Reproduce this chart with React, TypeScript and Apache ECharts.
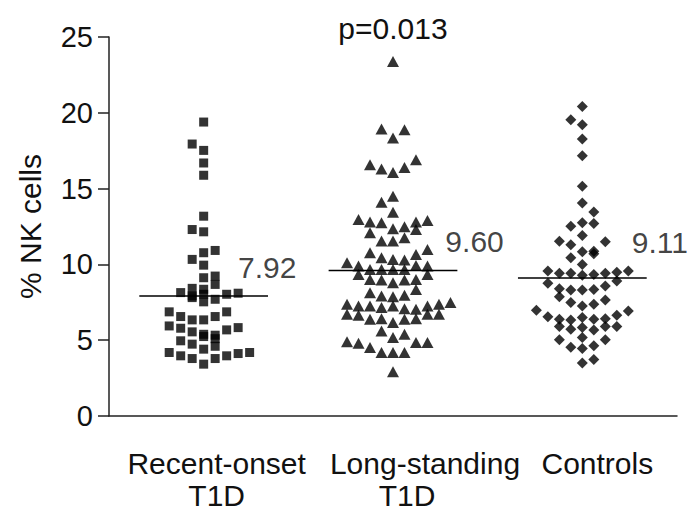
import React, { useEffect, useRef } from "react";
import * as echarts from "echarts";

const categories = ["Recent-onset\nT1D", "Long-standing\nT1D", "Controls"];
const medians = [7.92, 9.6, 9.11];
const medianLabels = ["7.92", "9.60", "9.11"];
const pValueText = "p=0.013";
const yAxisTitle = "% NK cells";

// [column slot in the beeswarm, % NK cells]
const recentOnset: [number, number][] = [
  [0, 19.39], [-1, 17.94], [0, 17.52], [0, 16.69], [0, 15.88], [0, 13.18], [-1, 12.3], [0, 12.15],
  [1, 10.92], [0, 10.77], [-1, 10.33], [0, 9.95], [0, 9.12], [1, 9.23], [1, 8.68], [-1, 8.42], [0, 8.36],
  [-2, 8.14], [-1, 7.92], [0, 8.03], [2, 8.03], [3, 8.1],
  [-1, 7.81], [0, 7.53], [1, 7.7],
  [-3, 6.87], [-2, 6.56], [-1, 6.34], [0, 6.34], [1, 6.56], [2, 6.87],
  [-3, 5.94], [-2, 5.79], [-1, 5.55], [0, 5.39], [1, 5.33], [2, 5.68], [3, 5.83],
  [-2, 4.96], [-1, 4.74], [0, 5.24], [1, 5.1], [1, 4.6],
  [-3, 4.19], [-2, 3.97], [-1, 3.79], [0, 4.41], [1, 3.79], [2, 3.97], [3, 4.12], [4, 4.19],
  [0, 3.42],
];

const longStanding: [number, number][] = [
  [0, 23.38],
  [-1, 18.93], [1, 18.88], [0, 18.33],
  [-2, 16.57], [-1, 16.29], [0, 16.07], [1, 16.4], [2, 16.9],
  [-1, 14.1], [0, 14.5],
  [0, 13.44],
  [-3, 12.96], [-2, 12.79], [-1, 12.74], [0, 12.35], [1, 12.48], [2, 12.79], [2, 12.3], [3, 12.89],
  [-2, 12.08], [-1, 11.54], [0, 11.54], [1, 11.75],
  [-2, 10.77], [-1, 10.44], [0, 10.33], [1, 10.29], [2, 10.66], [3, 10.99],
  [-4, 10.11], [-3, 9.89], [-2, 9.67], [-1, 9.67], [0, 9.67], [1, 9.67], [2, 9.93], [3, 9.89],
  [-3, 9.34], [-2, 9.01], [-1, 8.97], [0, 8.79], [1, 8.97], [2, 9.01], [3, 9.34],
  [-2, 8.13], [-1, 7.91], [0, 7.87], [1, 7.96], [2, 8.35],
  [-4, 7.37], [-3, 7.26], [-2, 7.26], [-1, 7.15], [0, 7.26], [1, 7.08], [2, 7.04], [3, 7.26], [4, 7.37], [5, 7.48],
  [-4, 6.71], [-3, 6.64], [-2, 6.38], [-1, 6.42], [0, 6.16], [1, 6.38], [2, 6.42], [3, 6.71], [4, 6.71],
  [-1, 5.61], [1, 5.39], [0, 5.18],
  [-4, 4.89], [-3, 4.8], [-2, 4.52], [-1, 4.19], [0, 4.19], [1, 4.19], [2, 4.85], [3, 4.85],
  [0, 2.92],
];

const controls: [number, number][] = [
  [0, 20.42], [-1, 19.54], [0, 19.21], [0, 18.27], [0, 17.17], [0, 15.15], [0, 14.05], [1, 13.45],
  [-1, 12.52], [0, 12.74], [1, 12.7],
  [0, 11.91], [-2, 11.53], [-1, 11.29], [2, 11.49], [0, 10.83], [1, 10.87], [1, 10.7], [-1, 10.44], [0, 10.0],
  [-3, 9.56], [-2, 9.41], [-1, 9.41], [0, 9.28], [1, 9.34], [2, 9.41], [3, 9.49], [4, 9.56],
  [-3, 8.75], [-2, 8.4], [-1, 8.31], [0, 8.31], [1, 8.35], [2, 8.57], [3, 8.9],
  [-2, 7.87], [-1, 7.48], [0, 7.26], [1, 7.37], [2, 7.65],
  [-4, 6.97], [-3, 6.55], [-2, 6.38], [-1, 6.33], [0, 6.49], [1, 6.38], [2, 6.42], [3, 6.64], [4, 6.93],
  [-2, 5.9], [-1, 5.72], [0, 5.83], [1, 5.68], [2, 5.9], [3, 5.9],
  [-2, 5.03], [0, 5.18], [2, 5.03],
  [-1, 4.53], [0, 4.46], [1, 4.64],
  [0, 3.5], [1, 3.72],
];

const groups = [recentOnset, longStanding, controls];
const symbols = ["rect", "triangle", "diamond"];
const symbolSizes: any[] = [9, [12, 11], [11, 11]];
const labelOffsets: [number, number][] = [[-30, -28], [-12, -29], [-15, -35]];
// horizontal shift (px) of each category label line relative to its tick
const lineShifts: number[][] = [[13, 13], [32, 14], [15]];

const SLOT = 0.0607;
const HALF = 0.34;
const FONT = "Liberation Sans, Arial, Helvetica, sans-serif";
const INK = "#111";

export default function App() {
  const ref = useRef<HTMLDivElement>(null);
  useEffect(() => {
    document.body.style.margin = "0";
    if (!ref.current) return;
    const chart = echarts.init(ref.current, null, { renderer: "svg" });
    const series: any[] = [];
    groups.forEach((g, i) => {
      const c = i + 0.5;
      series.push({
        type: "scatter",
        xAxisIndex: 1,
        symbol: symbols[i],
        symbolSize: symbolSizes[i],
        itemStyle: { color: "#000" },
        data: g.map(([s, v]) => [c + s * SLOT, v]),
        z: 3,
      });
      series.push({
        type: "line",
        xAxisIndex: 1,
        symbol: "none",
        lineStyle: { color: "#000", width: 1.5 },
        data: [[c - HALF, medians[i]], [c + HALF, medians[i]]],
        z: 2,
      });
      series.push({
        type: "scatter",
        xAxisIndex: 1,
        symbolSize: 0,
        data: [[c + HALF, medians[i]]],
        label: {
          show: true,
          position: "inside",
          align: "left",
          verticalAlign: "middle",
          offset: labelOffsets[i],
          formatter: () => medianLabels[i],
          fontFamily: FONT,
          fontSize: 30,
          color: INK,
        },
        z: 4,
      });
    });

    const rich: Record<string, any> = {};
    lineShifts.flat().forEach((s) => {
      rich["s" + s] = {
        fontFamily: FONT,
        fontSize: 30,
        color: INK,
        lineHeight: 32,
        padding: [0, 0, 0, 2 * s],
      };
    });

    chart.setOption({
      animation: false,
      backgroundColor: "#fff",
      grid: { left: 109, right: 19, top: 37, bottom: 94, containLabel: false },
      xAxis: [
        {
          type: "category",
          data: categories,
          boundaryGap: true,
          axisLine: { lineStyle: { color: "#222", width: 1.5 } },
          axisTick: { alignWithLabel: true, length: 11, lineStyle: { color: "#222", width: 1.5 } },
          axisLabel: {
            fontFamily: FONT,
            fontSize: 30,
            color: INK,
            margin: 31,
            lineHeight: 32,
            interval: 0,
            formatter: (value: string, idx: number) =>
              value
                .split("\n")
                .map((line, li) => `{s${lineShifts[idx][li]}|${line}}`)
                .join("\n"),
            rich,
          },
          splitLine: { show: false },
        },
        {
          type: "value",
          min: 0,
          max: 3,
          show: false,
          splitLine: { show: false },
        },
      ],
      yAxis: {
        type: "value",
        min: 0,
        max: 25,
        interval: 5,
        name: yAxisTitle,
        nameLocation: "middle",
        nameGap: 64,
        nameTextStyle: { fontFamily: FONT, fontSize: 30, color: INK },
        axisLine: { show: true, lineStyle: { color: "#222", width: 1.5 } },
        axisTick: { show: true, length: 11, lineStyle: { color: "#222", width: 1.5 } },
        axisLabel: { fontFamily: FONT, fontSize: 29, color: INK, margin: 16 },
        splitLine: { show: false },
      },
      graphic: [
        {
          type: "text",
          x: 393,
          y: 28,
          style: {
            text: pValueText,
            fontFamily: FONT,
            fontSize: 30,
            fill: INK,
            textAlign: "center",
            textVerticalAlign: "middle",
          },
        },
      ],
      series,
    });
    return () => chart.dispose();
  }, []);
  return <div ref={ref} style={{ width: 696, height: 511 }} />;
}
